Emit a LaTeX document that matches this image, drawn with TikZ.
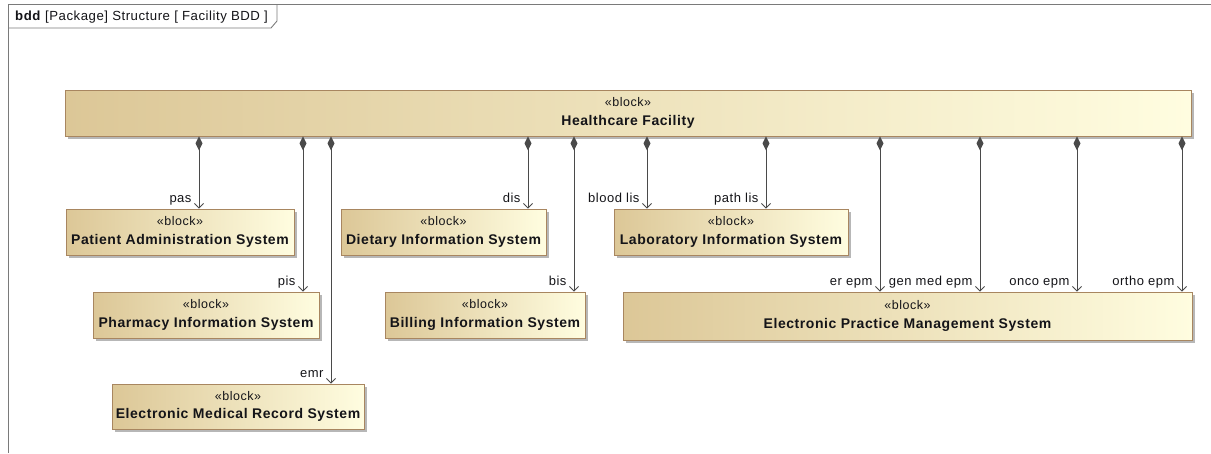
\documentclass[tikz,border=0pt]{standalone}
\usepackage{fontspec}
\setmainfont{Liberation Sans}
\newfontfamily\uifont[LetterSpace=4]{Liberation Sans}
\usetikzlibrary{arrows.meta,shadows}

\definecolor{blkL}{HTML}{DCC797}
\definecolor{blkR}{HTML}{FFFDE0}
\definecolor{blkborder}{HTML}{A88660}
\definecolor{lineC}{HTML}{4A4A4A}
\definecolor{frameC}{HTML}{7A7A7A}
\definecolor{txtC}{HTML}{141418}

\newcommand{\stereo}{\uifont\fontsize{12.5}{14}\selectfont}
\newcommand{\bname}{\uifont\bfseries\fontsize{14}{16}\selectfont}

\tikzset{
  blk/.style={draw=blkborder, line width=0.9pt, left color=blkL, right color=blkR,
    drop shadow={shadow xshift=3pt, shadow yshift=-3pt, fill=black!40, opacity=0.7},
    minimum height=46pt, inner sep=0pt, align=center, text=txtC},
  comp/.style={draw=lineC, line width=1pt,
    {Diamond[length=14pt,width=7pt]}-{Straight Barb[length=4.5pt,width=9pt,line width=0.9pt]}},
  lbl/.style={anchor=base east, xshift=-7pt, yshift=6.5pt, inner sep=0pt,
    font=\uifont\fontsize{13}{15}\selectfont, text=txtC},
}

\begin{document}
\begin{tikzpicture}[x=1pt, y=-1pt]
\useasboundingbox (0,0) rectangle (1211,453);

% diagram frame with its name tab
\draw[frameC, line width=0.9pt] (8,453) -- (8,4) -- (1211,4);
\node[anchor=base west, inner sep=0pt, text=txtC, font=\uifont\fontsize{13.2}{15}\selectfont]
  (tab) at (15,20.5) {\textbf{bdd} [Package] Structure [ Facility BDD ]};
\draw[frameC, line width=0.9pt] (8,28) -- (271,28) -- (277,21) -- (277,4);

% blocks
\node[blk, minimum width=1126pt] (hf) at (628,113)
  {\stereo «block»\\[6.5pt]\bname Healthcare Facility};
\node[blk, minimum width=228pt] (pas) at (180,232)
  {\stereo «block»\\[6.5pt]\bname Patient Administration System};
\node[blk, minimum width=205pt] (dis) at (443.5,232)
  {\stereo «block»\\[6.5pt]\bname Dietary Information System};
\node[blk, minimum width=234pt] (lab) at (731,232)
  {\stereo «block»\\[6.5pt]\bname Laboratory Information System};
\node[blk, minimum width=226pt] (pha) at (206,315)
  {\stereo «block»\\[6.5pt]\bname Pharmacy Information System};
\node[blk, minimum width=200pt] (bil) at (485,315)
  {\stereo «block»\\[6.5pt]\bname Billing Information System};
\node[blk, minimum width=569pt, minimum height=48pt] (epm) at (907.5,316)
  {\stereo «block»\\[6.5pt]\bname Electronic Practice Management System};
\node[blk, minimum width=252pt, minimum height=45pt] (emr) at (238,406.5)
  {\stereo «block»\\[6.5pt]\bname Electronic Medical Record System};

% x positions of the part connectors
\coordinate (xpas) at (199,0);
\coordinate (xpis) at (303,0);
\coordinate (xemr) at (331,0);
\coordinate (xdis) at (528,0);
\coordinate (xbis) at (574,0);
\coordinate (xblood) at (647,0);
\coordinate (xpath) at (766,0);
\coordinate (xer) at (880,0);
\coordinate (xgen) at (980,0);
\coordinate (xonco) at (1077,0);
\coordinate (xortho) at (1182,0);

% composition connectors with part names
\draw[comp] (hf.south -| xpas) -- (pas.north -| xpas) node[lbl] (lpas) {pas};
\draw[comp] (hf.south -| xpis) -- (pha.north -| xpis) node[lbl] (lpis) {pis};
\draw[comp] (hf.south -| xemr) -- (emr.north -| xemr) node[lbl] (lemr) {emr};
\draw[comp] (hf.south -| xdis) -- (dis.north -| xdis) node[lbl] (ldis) {dis};
\draw[comp] (hf.south -| xbis) -- (bil.north -| xbis) node[lbl] (lbis) {bis};
\draw[comp] (hf.south -| xblood) -- (lab.north -| xblood) node[lbl] (lblood) {blood lis};
\draw[comp] (hf.south -| xpath) -- (lab.north -| xpath) node[lbl] (lpath) {path lis};
\draw[comp] (hf.south -| xer) -- (epm.north -| xer) node[lbl] (ler) {er epm};
\draw[comp] (hf.south -| xgen) -- (epm.north -| xgen) node[lbl] (lgen) {gen med epm};
\draw[comp] (hf.south -| xonco) -- (epm.north -| xonco) node[lbl] (lonco) {onco epm};
\draw[comp] (hf.south -| xortho) -- (epm.north -| xortho) node[lbl] (lortho) {ortho epm};
\end{tikzpicture}
\end{document}
